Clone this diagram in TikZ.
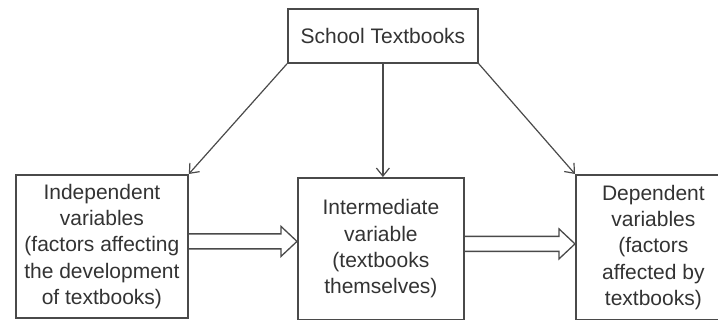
\documentclass[tikz,border=0pt]{standalone}
\usepackage{fontspec}
\setmainfont{Liberation Sans}
\usetikzlibrary{arrows.meta,calc}
\definecolor{linegray}{HTML}{4A4A4A}
\definecolor{textgray}{HTML}{333333}
\tikzset{
  box/.style={draw=linegray, line width=1.8pt, inner sep=0pt, anchor=north west,
    text=textgray, align=center, font=\fontsize{21}{26.4}\selectfont},
  thinarrow/.style={draw=linegray, line width=1.2pt, -{Straight Barb[length=8pt,width=13pt]}},
  hollow/.style={draw=linegray, line width=1.3pt, line join=miter}
}
\newcommand\myhollowarrow[2]{%
  \coordinate (s) at ($(#1.east)+(0,-5)$);
  \coordinate (t) at (#2.west |- s);
  \draw[hollow] ($(s)+(0,7.5)$) -- ($(t)+(-16,7.5)$) -- ($(t)+(-16,15)$) -- (t)
    -- ($(t)+(-16,-15)$) -- ($(t)+(-16,-7.5)$) -- ($(s)+(0,-7.5)$);
}
\begin{document}
\begin{tikzpicture}[x=1pt,y=-1pt]
\useasboundingbox (0,0) rectangle (718,320);
\clip (0,0) rectangle (718,320);
\node[box, minimum width=190pt, minimum height=54pt] (T) at (287,8) {School Textbooks};
\node[box, minimum width=172pt, minimum height=143pt] (L) at (15,174)
  {Independent\\variables\\(factors affecting\\the development\\of textbooks)};
\node[box, minimum width=166pt, minimum height=142pt] (M) at (297,177)
  {Intermediate\\variable\\(textbooks\\themselves)};
\node[box, minimum width=155pt, minimum height=145pt] (R) at (575,174)
  {Dependent\\variables\\(factors\\affected by\\textbooks)};
\draw[thinarrow] (T.south west) -- (L.north east);
\draw[thinarrow] (T.south) -- (T.south |- M.north);
\draw[thinarrow] (T.south east) -- (R.north west);
\myhollowarrow{L}{M}
\myhollowarrow{M}{R}
\end{tikzpicture}
\end{document}
